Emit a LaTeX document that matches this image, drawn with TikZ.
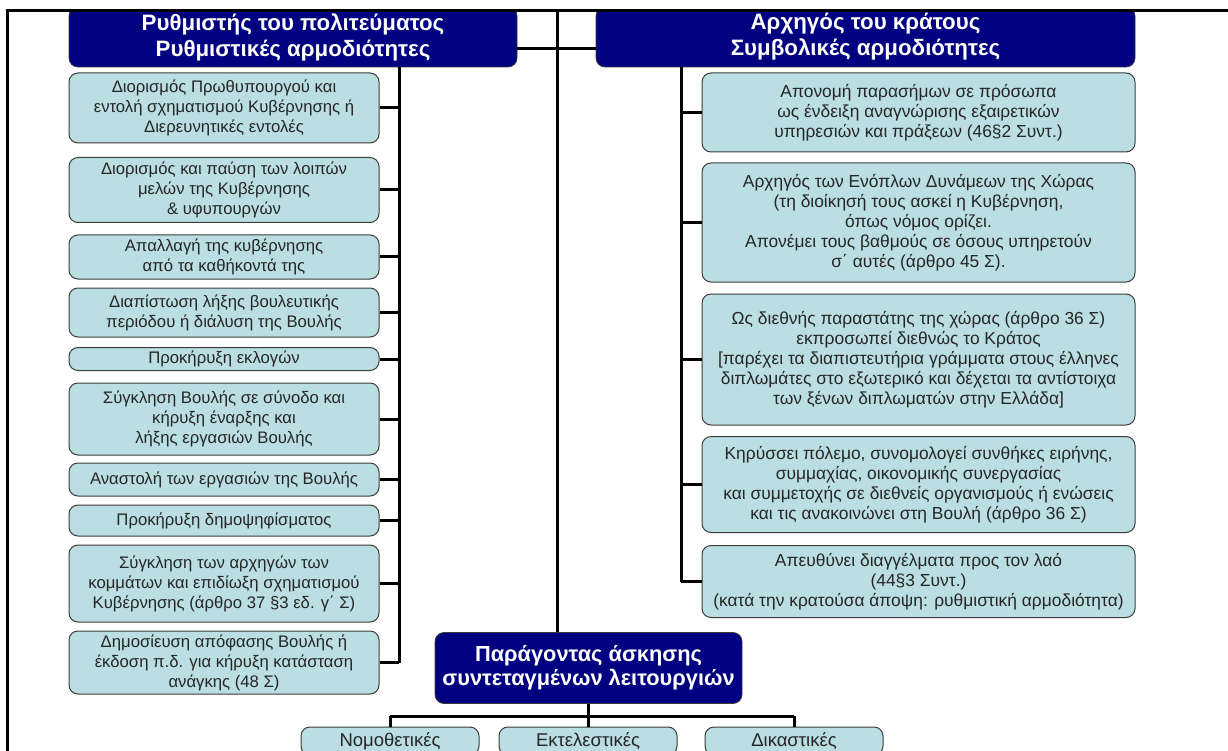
\documentclass[tikz,border=0pt]{standalone}
\usepackage{fontspec}
\setmainfont{Liberation Sans}
\usepackage{xcolor}
\usepackage{tikz}
\usetikzlibrary{positioning}

\definecolor{navybox}{RGB}{0,0,128}
\definecolor{tealbox}{RGB}{186,222,226}
\definecolor{boxline}{RGB}{60,60,60}

\begin{document}
\begin{tikzpicture}[x=1pt,y=-1pt,
    head/.style={draw=boxline,fill=navybox,text=white,rounded corners=9pt,align=center,
      inner sep=0pt,line width=0.8pt,font=\fontsize{22.3}{26}\selectfont\bfseries},
    item/.style={draw=boxline,fill=tealbox,rounded corners=9pt,align=center,
      inner sep=0pt,line width=1pt,text=black!85,font=\fontsize{16.7}{20}\selectfont},
    ritem/.style={item,font=\fontsize{17.4}{20}\selectfont},
    kind/.style={item,minimum width=178,minimum height=28,font=\fontsize{18.5}{22}\selectfont},
    bus/.style={line width=3pt}]
    \useasboundingbox (0,0) rectangle (1228,751);

    % the two heads, cut at the frame
    \begin{scope}
      \clip (0,11) rectangle (1228,751);
      \node[head,minimum width=448,minimum height=60] (R) at (293,37)
        {Ρυθμιστής του πολιτεύματος\\Ρυθμιστικές αρμοδιότητες};
      \node[head,minimum width=539,minimum height=60] (A) at (865.5,37)
        {Αρχηγός του κράτους\\Συμβολικές αρμοδιότητες};
    \end{scope}

    % left column
    \node[item,minimum width=310,minimum height=70] (R1) at (224,108)
      {Διορισμός Πρωθυπουργού  και\\εντολή σχηματισμού Κυβέρνησης ή\\Διερευνητικές εντολές};
    \node[item,minimum width=310,minimum height=65] (R2) at (224,190)
      {Διορισμός και παύση των λοιπών\\μελών της Κυβέρνησης\\\& υφυπουργών};
    \node[item,minimum width=310,minimum height=44] (R3) at (224,257)
      {Απαλλαγή της κυβέρνησης\\από τα καθήκοντά της};
    \node[item,minimum width=310,minimum height=49] (R4) at (224,312.5)
      {Διαπίστωση λήξης βουλευτικής\\περιόδου ή διάλυση της Βουλής};
    \node[item,minimum width=310,minimum height=23] (R5) at (224,359)
      {Προκήρυξη  εκλογών};
    \node[item,minimum width=310,minimum height=72] (R6) at (224,419)
      {Σύγκληση Βουλής σε σύνοδο και\\κήρυξη έναρξης και\\λήξης εργασιών Βουλής};
    \node[item,minimum width=310,minimum height=33] (R7) at (224,479.5)
      {Αναστολή των εργασιών της Βουλής};
    \node[item,minimum width=310,minimum height=31] (R8) at (224,520.5)
      {Προκήρυξη δημοψηφίσματος};
    \node[item,minimum width=310,minimum height=77] (R9) at (224,583.5)
      {Σύγκληση των αρχηγών των\\κομμάτων και επιδίωξη σχηματισμού\\Κυβέρνησης (άρθρο 37 §3 εδ. γ΄ Σ)};
    \node[item,minimum width=310,minimum height=63] (R10) at (224,662.5)
      {Δημοσίευση απόφασης Βουλής ή\\έκδοση π.δ. για κήρυξη κατάσταση\\ανάγκης (48 Σ)};

    % right column
    \node[ritem,minimum width=433,minimum height=79] (A1) at (918.5,112.5)
      {Απονομή παρασήμων σε πρόσωπα\\ως ένδειξη αναγνώρισης εξαιρετικών\\υπηρεσιών και πράξεων (46§2  Συντ.)};
    \node[ritem,minimum width=433,minimum height=119] (A2) at (918.5,222.5)
      {Αρχηγός των Ενόπλων Δυνάμεων της Χώρας\\(τη διοίκησή τους ασκεί η Κυβέρνηση,\\όπως νόμος ορίζει.\\Απονέμει τους βαθμούς σε όσους υπηρετούν\\σ΄ αυτές (άρθρο 45  Σ).};
    \node[ritem,minimum width=433,minimum height=131] (A3) at (918.5,359.5)
      {Ως διεθνής παραστάτης της χώρας (άρθρο  36 Σ)\\εκπροσωπεί διεθνώς το Κράτος\\{}[παρέχει τα διαπιστευτήρια  γράμματα στους έλληνες\\διπλωμάτες στο εξωτερικό και δέχεται τα αντίστοιχα\\των ξένων διπλωματών στην Ελλάδα]};
    \node[ritem,minimum width=433,minimum height=96] (A4) at (918.5,484.5)
      {Κηρύσσει πόλεμο, συνομολογεί συνθήκες ειρήνης,\\συμμαχίας, οικονομικής συνεργασίας\\και συμμετοχής σε διεθνείς οργανισμούς ή ενώσεις\\και τις ανακοινώνει στη Βουλή (άρθρο 36  Σ)};
    \node[ritem,minimum width=433,minimum height=72] (A5) at (918.5,581.5)
      {Απευθύνει διαγγέλματα προς τον λαό\\(44§3  Συντ.)\\(κατά την κρατούσα άποψη: ρυθμιστική αρμοδιότητα)};

    % bottom
    \node[head,minimum width=307,minimum height=71,font=\fontsize{21.8}{24}\selectfont\bfseries]
      (P) at (588.5,668) {Παράγοντας άσκησης\\συντεταγμένων λειτουργιών};
    \node[kind] (N) at (390,741) {Νομοθετικές};
    \node[kind] (E) at (588,741) {Εκτελεστικές};
    \node[kind] (D) at (794,741) {Δικαστικές};

    % frame and lines
    \draw[bus] (1228,11) -- (7,11) -- (7,751);
    \coordinate (top) at (557,11);
    \draw[bus] (top) -- (top |- P.north);
    \draw[bus] ([yshift=-12pt]R.east) -- ([yshift=-12pt]A.west);
    \coordinate (lt) at (399,67);
    \draw[bus] (lt) -- (lt |- R10.east);
    \foreach \i in {1,...,10}
      \draw[bus] (lt |- R\i.east) -- (R\i.east);
    \coordinate (rt) at (681,67);
    \draw[bus] (rt) -- (rt |- A5.west);
    \foreach \i in {1,...,5}
      \draw[bus] (rt |- A\i.west) -- (A\i.west);
    \coordinate (bj) at (588.5,716);
    \draw[bus] (P.south) -- (bj);
    \draw[bus] (N.north |- bj) -- (D.north |- bj);
    \foreach \b in {N,E,D}
      \draw[bus] (\b.north |- bj) -- (\b.north);
\end{tikzpicture}
\end{document}
